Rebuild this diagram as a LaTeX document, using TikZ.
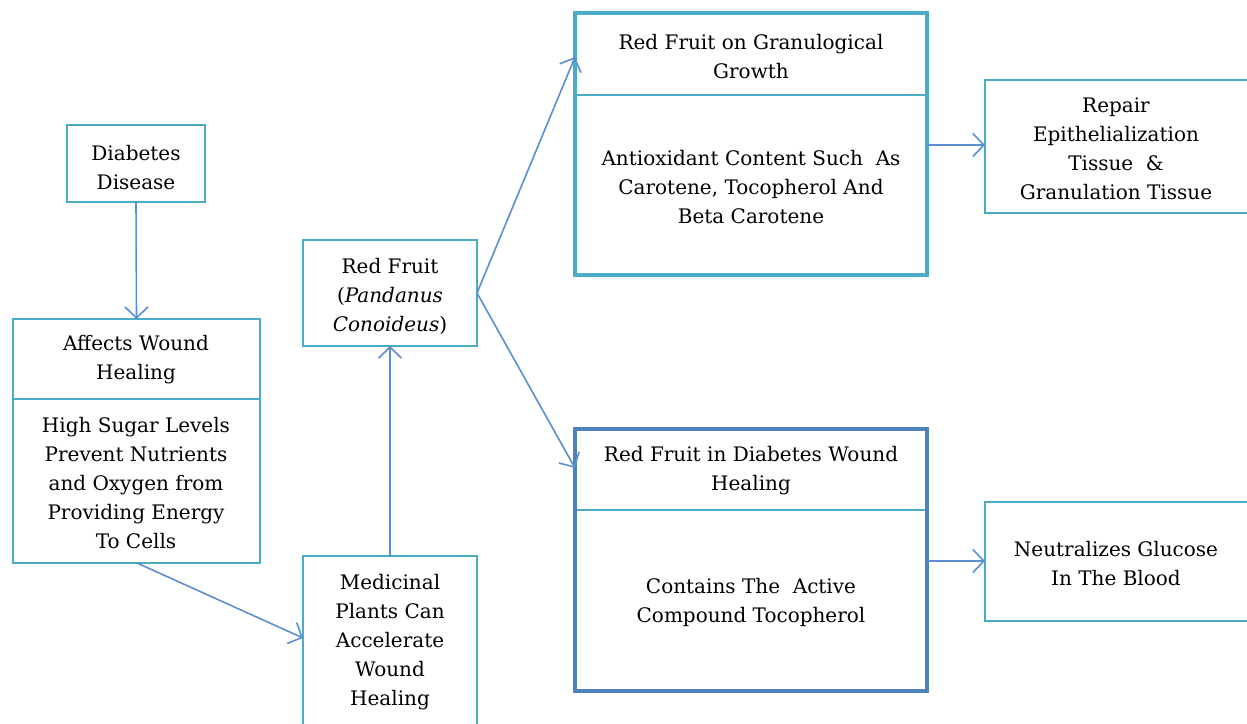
\documentclass[tikz,border=0pt]{standalone}
\usepackage{fontspec}
\setmainfont{DejaVu Serif}
\usetikzlibrary{arrows.meta,fit}
\definecolor{teal}{HTML}{4BACC6}
\definecolor{arr}{HTML}{5B8FD1}
\definecolor{dblue}{HTML}{4F81BD}
\tikzset{
  txt/.style={font=\fontsize{20}{29}\selectfont,align=center,inner sep=0pt},
  box/.style={draw=teal,line width=1.6pt,fill=white,anchor=north west,inner sep=0pt,outer sep=0pt},
  outerteal/.style={draw=teal,line width=3.2pt,inner sep=0pt,outer sep=0pt},
  outerblue/.style={draw=dblue,line width=3.2pt,inner sep=0pt,outer sep=0pt},
  conn/.style={draw=arr,line width=1.6pt,-{Straight Barb[length=11pt,width=23pt,line width=1.6pt]}},
}
\begin{document}
\begin{tikzpicture}[x=1pt,y=-1pt]
\useasboundingbox (0,0) rectangle (1247,723);
\clip (0,0) rectangle (1247,723);
\fill[white] (0,0) rectangle (1247,723);
% boxes
\node[box,minimum width=138pt,minimum height=77pt] (dd) at (67,125) {};
\node[box,minimum width=247pt,minimum height=80pt] (awh) at (13,319) {};
\node[box,minimum width=247pt,minimum height=164pt] (hsl) at (13,399) {};
\node[box,minimum width=174pt,minimum height=106pt] (rf) at (303,240) {};
\node[box,minimum width=174pt,minimum height=184pt] (mp) at (303,556) {};
\node[box,minimum width=352pt,minimum height=82pt] (gh) at (575,13) {};
\node[box,minimum width=352pt,minimum height=180pt] (gb) at (575,95) {};
\node[outerteal,fit=(gh)(gb)] (g) {};
\node[box,minimum width=352pt,minimum height=81pt] (wh) at (575,429) {};
\node[box,minimum width=352pt,minimum height=181pt] (wb) at (575,510) {};
\node[outerblue,fit=(wh)(wb)] (w) {};
\node[box,minimum width=270pt,minimum height=133pt] (rep) at (985,80) {};
\node[box,minimum width=270pt,minimum height=119pt] (neu) at (985,502) {};
% texts
\node[txt] (ddt) at (136,168) {Diabetes\\Disease};
\node[txt] (awht) at (136,359.5) {Affects Wound\\Healing};
\node[txt] (hslt) at (136,483.5) {High Sugar Levels\\Prevent Nutrients\\and Oxygen from\\Providing Energy\\To Cells};
\node[txt] (rft) at (390,296) {Red Fruit\\(\textit{Pandanus}\\\textit{Conoideus})};
\node[txt] (mpt) at (390,642.5) {Medicinal\\Plants Can\\Accelerate\\Wound\\Healing};
\node[txt] (ght) at (751,57) {Red Fruit on Granulogical\\Growth};
\node[txt] (gbt) at (751,187) {Antioxidant Content Such~ As\\Carotene, Tocopherol And\\Beta Carotene};
\node[txt] (wht) at (751,470.5) {Red Fruit in Diabetes Wound\\Healing};
\node[txt] (wbt) at (751,602.5) {Contains The~ Active\\Compound Tocopherol};
\node[txt] (rept) at (1116,149) {Repair\\Epithelialization\\Tissue~ \&\\Granulation Tissue};
\node[txt] (neut) at (1116,563.5) {Neutralizes Glucose\\In The Blood};
% connectors
\draw[conn] (dd.south) -- (awh.north);
\draw[conn] (137,563) -- (mp.west |- 0,638);
\draw[conn] (mp.north) -- (rf.south);
\draw[conn] (rf.east) -- (g.west |- 0,57);
\draw[conn] (rf.east) -- (w.west |- 0,468);
\draw[conn] (g.east |- 0,145) -- (rep.west |- 0,145);
\draw[conn] (w.east |- 0,561) -- (neu.west |- 0,561);
\end{tikzpicture}
\end{document}
